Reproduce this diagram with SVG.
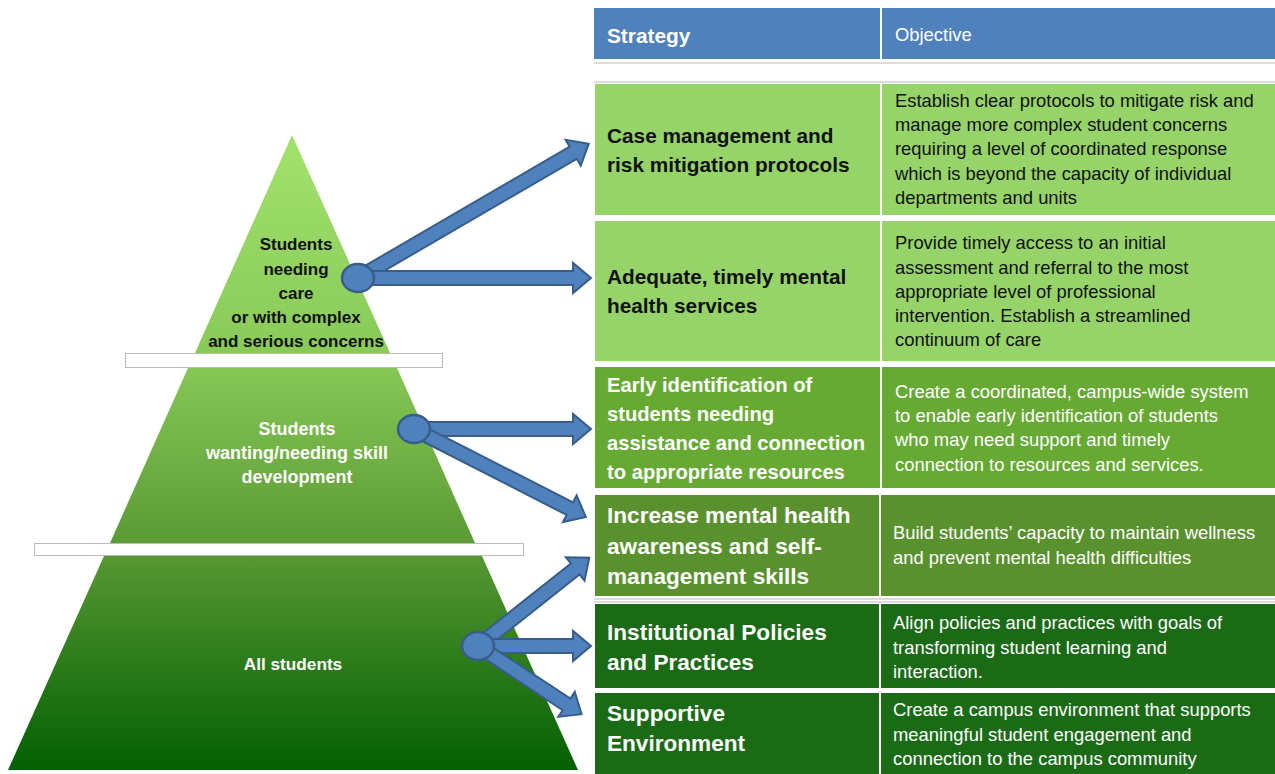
<svg xmlns="http://www.w3.org/2000/svg" width="1275" height="774" viewBox="0 0 1275 774">
<defs>
<linearGradient id="pg" gradientUnits="userSpaceOnUse" x1="0" y1="135" x2="0" y2="770">
<stop offset="0" stop-color="#a2e26c"/>
<stop offset="0.35" stop-color="#88c958"/>
<stop offset="0.64" stop-color="#5c9b35"/>
<stop offset="1" stop-color="#036003"/>
</linearGradient>
<style>
.sb{font-family:"Liberation Sans",Arial,sans-serif;font-weight:bold;font-size:20.8px}
.s3{font-size:20.2px}
.s4{font-size:22.6px}
.ob{font-family:"Liberation Sans",Arial,sans-serif;font-size:18.4px}
.dk{fill:#111}
.wh{fill:#fff}
.pl{font-family:"Liberation Sans",Arial,sans-serif;font-weight:bold;font-size:17px;text-anchor:middle}
.bar{fill:#fff;stroke:#bbb;stroke-width:1}
.arr{fill:#4f81bd;stroke:#385d8a;stroke-width:2;stroke-linejoin:miter}
.dot{fill:#4f81bd;stroke:#385d8a;stroke-width:2.5}
.div{stroke:#fff;stroke-width:2}
.sep{stroke:#d0d0d0;stroke-width:1.5}
</style>
</defs>
<rect width="1275" height="774" fill="#fff"/>

<g id="pyramid">
<polygon points="292,135 195,353 390,353" fill="url(#pg)"/>
<polygon points="188,368 397,368 475,543 110,543" fill="url(#pg)"/>
<polygon points="104,556 482,556 578,770 8,770" fill="url(#pg)"/>
<rect class="bar" x="125.5" y="353.5" width="317" height="14"/>
<rect class="bar" x="34.5" y="543.5" width="489" height="12"/>
</g>

<g id="tier-top">
<text class="pl dk" x="296" y="250">Students</text>
<text class="pl dk" x="296" y="275">needing</text>
<text class="pl dk" x="296" y="299">care</text>
<text class="pl dk" x="296" y="323">or with complex</text>
<text class="pl dk" x="296" y="347">and serious concerns</text>
</g>
<g id="tier-middle">
<text class="pl wh" x="297" y="435" style="font-size:18px">Students</text>
<text class="pl wh" x="297" y="459" style="font-size:18px">wanting/needing skill</text>
<text class="pl wh" x="297" y="483" style="font-size:18px">development</text>
</g>
<g id="tier-bottom">
<text class="pl wh" x="293" y="670" style="font-size:17.2px">All students</text>
</g>

<g id="table-header">
<rect x="594" y="8" width="681" height="51" fill="#4f81bd"/>
<line class="div" x1="881" y1="8" x2="881" y2="59"/>
<line class="sep" x1="594" y1="63" x2="1275" y2="63"/>
<line class="sep" x1="594" y1="82" x2="1275" y2="82"/>
<text class="sb wh" x="607" y="43">Strategy</text>
<text class="ob wh" x="895" y="41">Objective</text>
</g>

<g id="row1">
<rect x="595" y="84" width="680" height="131" fill="#96d46a"/>
<line class="div" x1="881" y1="84" x2="881" y2="215"/>
<text class="sb dk" x="607" y="143">Case management and</text>
<text class="sb dk" x="607" y="172">risk mitigation protocols</text>
<text class="ob dk" x="895" y="107">Establish clear protocols to mitigate risk and</text>
<text class="ob dk" x="895" y="131">manage more complex student concerns</text>
<text class="ob dk" x="895" y="155">requiring a level of coordinated response</text>
<text class="ob dk" x="895" y="180">which is beyond the capacity of individual</text>
<text class="ob dk" x="895" y="204">departments and units</text>
</g>

<g id="row2">
<rect x="595" y="221" width="680" height="140" fill="#96d46a"/>
<line class="div" x1="881" y1="221" x2="881" y2="361"/>
<text class="sb dk" x="607" y="284">Adequate, timely mental</text>
<text class="sb dk" x="607" y="313">health services</text>
<text class="ob dk" x="895" y="249">Provide timely access to an initial</text>
<text class="ob dk" x="895" y="274">assessment and referral to the most</text>
<text class="ob dk" x="895" y="298">appropriate level of professional</text>
<text class="ob dk" x="895" y="322">intervention. Establish a streamlined</text>
<text class="ob dk" x="895" y="346">continuum of care</text>
</g>

<g id="row3">
<rect x="595" y="367" width="680" height="121" fill="#66aa33"/>
<line class="div" x1="881" y1="367" x2="881" y2="488"/>
<text class="sb s3 wh" x="607" y="392">Early identification of</text>
<text class="sb s3 wh" x="607" y="421">students needing</text>
<text class="sb s3 wh" x="607" y="450">assistance and connection</text>
<text class="sb s3 wh" x="607" y="479">to appropriate resources</text>
<text class="ob wh" x="895" y="398">Create a coordinated, campus-wide system</text>
<text class="ob wh" x="895" y="422">to enable early identification of students</text>
<text class="ob wh" x="895" y="446">who may need support and timely</text>
<text class="ob wh" x="895" y="471">connection to resources and services.</text>
</g>

<g id="row4">
<rect x="595" y="495" width="680" height="101" fill="#5a912f"/>
<line class="div" x1="880" y1="495" x2="880" y2="596"/>
<text class="sb s4 wh" x="607" y="523">Increase mental health</text>
<text class="sb s4 wh" x="607" y="554">awareness and self-</text>
<text class="sb s4 wh" x="607" y="584">management skills</text>
<text class="ob wh" x="893" y="539">Build students’ capacity to maintain wellness</text>
<text class="ob wh" x="893" y="564">and prevent mental health difficulties</text>
</g>
<line class="sep" x1="594" y1="599" x2="1275" y2="599"/>
<line class="sep" x1="594" y1="602" x2="1275" y2="602"/>

<g id="row5">
<rect x="595" y="604" width="680" height="84" fill="#1b6a16"/>
<line class="div" x1="880" y1="604" x2="880" y2="688"/>
<text class="sb s4 wh" x="607" y="640">Institutional Policies</text>
<text class="sb s4 wh" x="607" y="670">and Practices</text>
<text class="ob wh" x="893" y="629">Align policies and practices with goals of</text>
<text class="ob wh" x="893" y="654">transforming student learning and</text>
<text class="ob wh" x="893" y="678">interaction.</text>
</g>

<g id="row6">
<rect x="595" y="693" width="680" height="81" fill="#1b6a16"/>
<line class="div" x1="880" y1="693" x2="880" y2="774"/>
<text class="sb s4 wh" x="607" y="721">Supportive</text>
<text class="sb s4 wh" x="607" y="751">Environment</text>
<text class="ob wh" x="893" y="716">Create a campus environment that supports</text>
<text class="ob wh" x="893" y="741">meaningful student engagement and</text>
<text class="ob wh" x="893" y="765">connection to the campus community</text>
</g>

<g id="connectors">
<path class="arr" transform="translate(358,278) rotate(-30.2)" d="M0,-7 L249,-7 L249,-15 L267,0 L249,15 L249,7 L0,7 Z"/>
<path class="arr" transform="translate(358,278)" d="M0,-7 L215,-7 L215,-15 L233,0 L215,15 L215,7 L0,7 Z"/>
<path class="arr" transform="translate(414,429)" d="M0,-7 L159,-7 L159,-15 L177,0 L159,15 L159,7 L0,7 Z"/>
<path class="arr" transform="translate(414,429) rotate(27.1)" d="M0,-7 L175,-7 L175,-15 L193,0 L175,15 L175,7 L0,7 Z"/>
<path class="arr" transform="translate(478,646) rotate(-38.4)" d="M0,-7 L124,-7 L124,-15 L142,0 L124,15 L124,7 L0,7 Z"/>
<path class="arr" transform="translate(478,646)" d="M0,-7 L95,-7 L95,-15 L113,0 L95,15 L95,7 L0,7 Z"/>
<path class="arr" transform="translate(478,646) rotate(33.4)" d="M0,-7 L106,-7 L106,-15 L124,0 L106,15 L106,7 L0,7 Z"/>
<ellipse class="dot" cx="358" cy="278" rx="16" ry="14"/>
<ellipse class="dot" cx="414" cy="429" rx="16" ry="14"/>
<ellipse class="dot" cx="478" cy="646" rx="16" ry="14"/>
</g>
</svg>
